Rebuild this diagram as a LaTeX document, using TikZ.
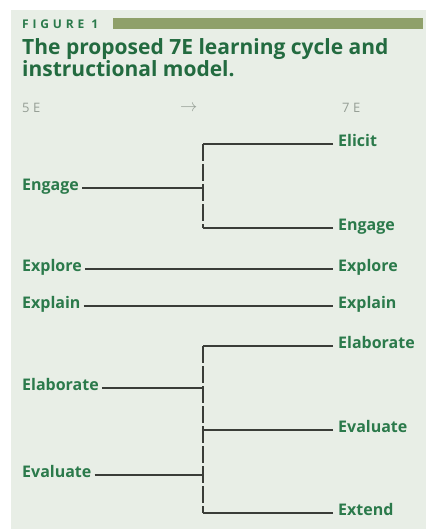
\documentclass[tikz,border=0pt]{standalone}
\usepackage{fontspec}
\setmainfont{Open Sans}
\definecolor{panelbg}{HTML}{E8EEE6}
\definecolor{barolive}{HTML}{8FA06A}
\definecolor{stagegreen}{HTML}{2B7A4B}
\definecolor{titlegreen}{HTML}{236B40}
\definecolor{linkgray}{HTML}{3A3D38}
\definecolor{headgray}{HTML}{959E95}

\begin{document}
\begin{tikzpicture}[x=1pt, y=-1pt,
  stage/.style={font=\bfseries\fontsize{16}{18}\selectfont, text=stagegreen, inner xsep=3pt, inner ysep=0pt, text height=1ex, text depth=0pt},
  old stage/.style={stage, anchor=west},
  new stage/.style={stage, anchor=west, inner xsep=5pt},
  colhead/.style={font=\fontsize{13}{15}\selectfont, text=headgray, anchor=west, inner sep=0pt},
  link/.style={draw=linkgray, line width=2pt},
  gapline/.style={link, dash pattern=on 17pt off 3pt}]

\useasboundingbox (0,0) rectangle (430,529);
\fill[panelbg] (11,10) rectangle (426,529);

\node[anchor=west, inner sep=0pt, text=stagegreen, font=\bfseries\fontsize{12}{14}\selectfont\addfontfeatures{LetterSpace=32}] (figlabel) at (22,24) {FIGURE 1};
\fill[barolive] (113,18) rectangle (423,29);
\node[anchor=west, inner sep=0pt, align=left, text=titlegreen, font=\bfseries\fontsize{21}{22}\selectfont] (title) at (22,58) {The proposed 7E learning cycle and\\instructional model.};

\node[colhead] (fiveE) at (22,108) {5 E};
\node[colhead, font=\fontsize{16}{18}\selectfont] (arrowhead) at (180,108) {$\rightarrow$};
\node[colhead] (sevenE) at (342,108) {7 E};

\node[old stage] (engL) at (19,188) {Engage};
\node[old stage] (exploreL) at (19,269) {Explore};
\node[old stage] (explainL) at (19,306) {Explain};
\node[old stage] (elabL) at (19,388) {Elaborate};
\node[old stage] (evalL) at (19,475) {Evaluate};

\node[new stage] (elicitR) at (333,144) {Elicit};
\node[new stage] (engR) at (333,228) {Engage};
\node[new stage] (exploreR) at (333,269) {Explore};
\node[new stage] (explainR) at (333,306) {Explain};
\node[new stage] (elabR) at (333,346) {Elaborate};
\node[new stage] (evalR) at (333,430) {Evaluate};
\node[new stage] (extendR) at (333,513) {Extend};

\coordinate (forkA) at (203,188);
\coordinate (forkB) at (203,430);

\draw[link] (engL.east) -- (engL.east -| forkA);
\draw[link] (elicitR.west) -- (elicitR.west -| forkA);
\draw[link] (engR.west) -- (engR.west -| forkA);
\draw[gapline] (elicitR.west -| forkA) -- (engR.west -| forkA);

\draw[link] (exploreL.east) -- (exploreR.west);
\draw[link] (explainL.east) -- (explainR.west);

\draw[link] (elabL.east) -- (elabL.east -| forkB);
\draw[link] (evalL.east) -- (evalL.east -| forkB);
\draw[link] (elabR.west) -- (elabR.west -| forkB);
\draw[link] (evalR.west) -- (forkB);
\draw[link] (extendR.west) -- (extendR.west -| forkB);
\draw[gapline] (elabR.west -| forkB) -- (extendR.west -| forkB);
\end{tikzpicture}
\end{document}
